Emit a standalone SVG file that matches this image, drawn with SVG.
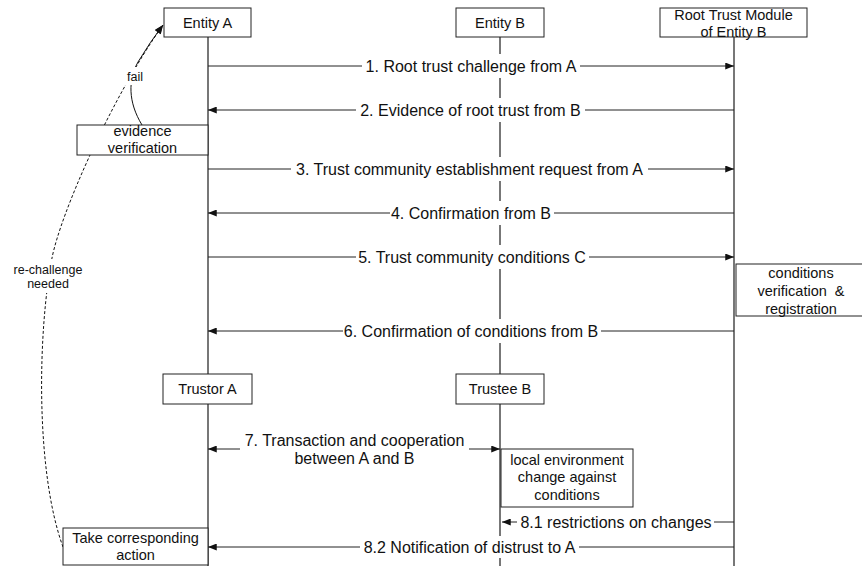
<svg xmlns="http://www.w3.org/2000/svg" width="862" height="568" viewBox="0 0 862 568">
<defs>
<style>
.life{stroke:#555;stroke-width:1.6;fill:none}
.msg{stroke:#222;stroke-width:1;fill:none;marker-end:url(#ah)}
.box{fill:#fff;stroke:#222;stroke-width:1}
.bg{fill:#fff;stroke:none}
.lbl{font-family:"Liberation Sans",Arial,sans-serif;font-size:16px;fill:#111;text-anchor:middle}
.bt{font-family:"Liberation Sans",Arial,sans-serif;font-size:14.5px;fill:#111;text-anchor:middle}
.st{font-family:"Liberation Sans",Arial,sans-serif;font-size:12.5px;fill:#111;text-anchor:middle}
.dash{stroke:#111;stroke-width:1;fill:none;stroke-dasharray:3 2;marker-end:url(#ah)}
.fail{stroke:#111;stroke-width:1;fill:none;marker-end:url(#ah)}
</style>
<marker id="ah" viewBox="0 0 10 8" refX="10" refY="4" markerWidth="10" markerHeight="7" markerUnits="userSpaceOnUse" orient="auto-start-reverse"><path d="M0,0 L10,4 L0,8 z" fill="#111"/></marker>
</defs>
<rect width="862" height="568" fill="#fff"/>
<g id="lifelines">
<line class="life" x1="208" y1="37" x2="208" y2="566"/>
<line class="life" x1="500" y1="37" x2="500" y2="566"/>
<line class="life" x1="734" y1="37" x2="734" y2="566"/>
</g>
<g id="connectors">
<line class="msg" x1="208" y1="66" x2="734" y2="66"/>
<line class="msg" x1="734" y1="110" x2="208" y2="110"/>
<line class="msg" x1="208" y1="169" x2="734" y2="169"/>
<line class="msg" x1="734" y1="213" x2="208" y2="213"/>
<line class="msg" x1="208" y1="257" x2="734" y2="257"/>
<line class="msg" x1="734" y1="331" x2="208" y2="331"/>
<line class="msg" x1="208" y1="449" x2="500" y2="449" marker-start="url(#ah)"/>
<line class="msg" x1="734" y1="522" x2="502" y2="522"/>
<line class="msg" x1="734" y1="547" x2="208" y2="547"/>
<path class="dash" d="M63,547 C35,470 38,330 52,258 C60.4,214.8 110,100 163,25"/>
<path class="fail" d="M142,125 C128,102 128,80 138,62 Q150,42 163,25"/>
<rect class="bg" x="362" y="54" width="218" height="24"/>
<text class="lbl" x="471" y="72">1. Root trust challenge from A</text>
<rect class="bg" x="356" y="98" width="229" height="24"/>
<text class="lbl" x="470.5" y="116">2. Evidence of root trust from B</text>
<rect class="bg" x="291" y="157" width="357" height="24"/>
<text class="lbl" x="469.5" y="175">3. Trust community establishment request from A</text>
<rect class="bg" x="390" y="201" width="164" height="24"/>
<text class="lbl" x="471" y="219">4. Confirmation from B</text>
<rect class="bg" x="356" y="245" width="233" height="24"/>
<text class="lbl" x="472" y="263">5. Trust community conditions C</text>
<rect class="bg" x="343" y="319" width="258" height="24"/>
<text class="lbl" x="471" y="337">6. Confirmation of conditions from B</text>
<rect class="bg" x="240" y="429" width="229" height="40"/>
<text class="lbl" x="354.5" y="446">7. Transaction and cooperation</text>
<text class="lbl" x="354.5" y="464">between A and B</text>
<rect class="bg" x="517" y="512" width="197" height="22"/>
<text class="lbl" x="616" y="528">8.1 restrictions on changes</text>
<rect class="bg" x="360" y="536" width="219" height="22"/>
<text class="lbl" x="469.5" y="553">8.2 Notification of distrust to A</text>
<rect class="bg" x="124" y="67" width="22" height="18"/>
<text class="st" x="135" y="80.5">fail</text>
<rect class="bg" x="10" y="259" width="78" height="34"/>
<text class="st" x="48" y="273.5">re-challenge</text>
<text class="st" x="48" y="287.5">needed</text>
</g>
<g id="entityA">
<rect class="box" x="164" y="8" width="87" height="29"/>
<text class="bt" x="207.5" y="27.5">Entity A</text>
</g>
<g id="entityB">
<rect class="box" x="456" y="8" width="88" height="29"/>
<text class="bt" x="500" y="27.5">Entity B</text>
</g>
<g id="rootTrust">
<rect class="box" x="660" y="8" width="147" height="29"/>
<text class="bt" x="733.5" y="20">Root Trust Module</text>
<text class="bt" x="733.5" y="36.5">of Entity B</text>
</g>
<g id="evidenceVerification">
<rect class="box" x="77" y="125" width="131" height="30"/>
<text class="bt" x="142.5" y="136">evidence</text>
<text class="bt" x="142.5" y="152.5">verification</text>
</g>
<g id="conditionsVerification">
<rect class="box" x="736" y="264" width="140" height="52"/>
<text class="bt" x="801" y="278">conditions</text>
<text class="bt" x="801" y="296" xml:space="preserve">verification  &amp;</text>
<text class="bt" x="801" y="313.5">registration</text>
</g>
<g id="trustorA">
<rect class="box" x="163" y="374" width="89" height="30"/>
<text class="bt" x="207.5" y="394">Trustor A</text>
</g>
<g id="trusteeB">
<rect class="box" x="456" y="374" width="88" height="30"/>
<text class="bt" x="500" y="394">Trustee B</text>
</g>
<g id="localEnvironment">
<rect class="box" x="501" y="449" width="132" height="58"/>
<text class="bt" x="567" y="465">local environment</text>
<text class="bt" x="567" y="482">change against</text>
<text class="bt" x="567" y="500">conditions</text>
</g>
<g id="takeAction">
<rect class="box" x="63" y="528" width="145" height="37"/>
<text class="bt" x="135.5" y="543">Take corresponding</text>
<text class="bt" x="135.5" y="559.5">action</text>
</g>
</svg>
